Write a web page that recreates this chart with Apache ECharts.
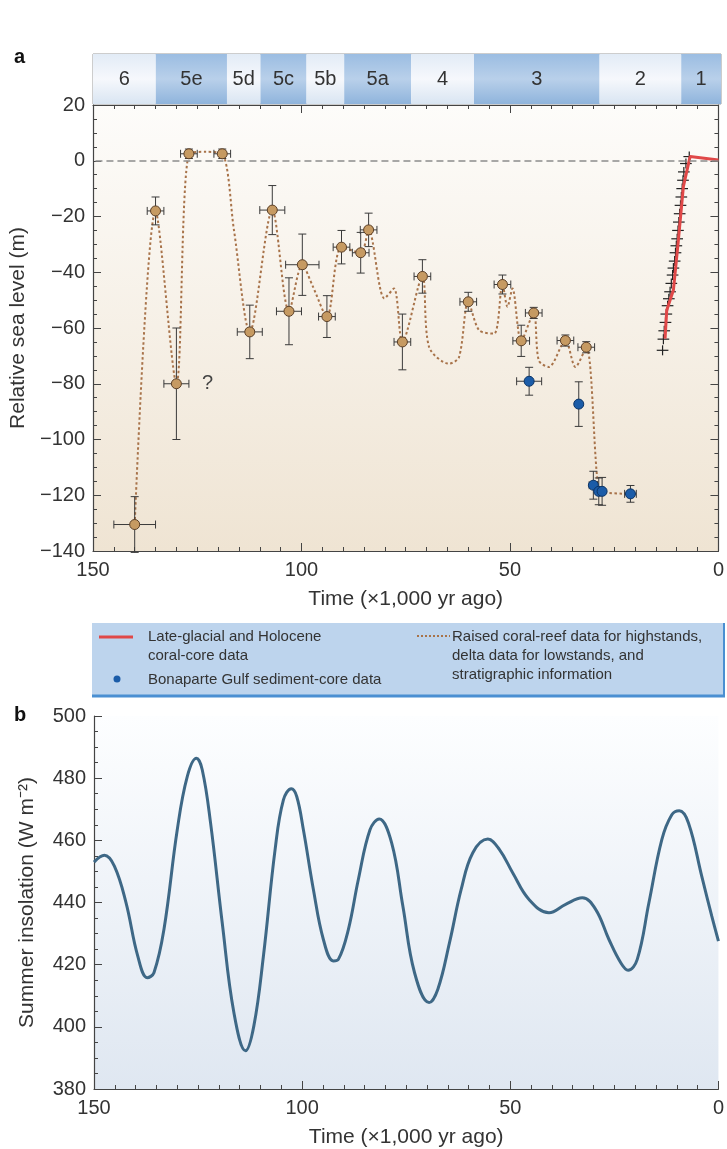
<!DOCTYPE html>
<html lang="en">
<head>
  <meta charset="UTF-8">
  <title>Sea level and insolation</title>
  <style>
    * { margin: 0; padding: 0; }
    body { background: #fff; overflow: hidden; }
    #chart { width: 727px; height: 1149px; }
  </style>
</head>
<body>
  <div id="chart"></div>
  <script src="https://cdn.jsdelivr.net/npm/echarts@6/dist/echarts.min.js"></script>
  <script>
    // marine isotope stages (ka boundaries)
    const stageNames = ['6', '5e', '5d', '5c', '5b', '5a', '4', '3', '2', '1'];
    const stageOld = [150, 135, 118, 110, 99, 90, 74, 59, 29, 9.5];
    const stageYoung = [135, 118, 110, 99, 90, 74, 59, 29, 9.5, 0];

    // raised coral reef / delta data: age, sea level, age error, level error
    const coralAge = [140, 135, 130, 127, 119, 112.4, 107, 103, 99.8, 93.9, 90.4, 85.8, 83.9, 75.8, 71, 60, 51.8, 47.3, 44.3, 36.7, 31.7];
    const coralLevel = [-130.5, -18, -80, 2.5, 2.5, -61.4, -17.7, -54, -37.3, -55.9, -31, -33, -24.8, -65, -41.5, -50.6, -44.4, -64.6, -54.6, -64.5, -66.9];
    const coralAgeErr = [5, 2, 3, 2, 2, 3, 3, 3, 4, 2, 2, 2, 2, 2, 2, 2, 2, 2, 2, 2, 2];
    const coralLevelErr = [10, 5, 20, 1.7, 1.7, 9.6, 8.8, 12, 11, 7.5, 6, 7.3, 6, 10, 6, 3.4, 3.4, 5.6, 2, 2, 2];
    const coralNote = ['', '', '?', '', '', '', '', '', '', '', '', '', '', '', '', '', '', '', '', '', ''];

    // Bonaparte Gulf sediment core
    const gulfAge = [45.4, 33.5, 30, 28.7, 27.9, 21.1];
    const gulfLevel = [-79.1, -87.3, -116.4, -118.6, -118.6, -119.5];
    const gulfAgeErr = [3, 0, 1, 0, 0, 1.4];
    const gulfLevelErr = [5, 8, 5, 4.8, 5, 3];

    // dotted sea-level reconstruction
    const curveAge = [140, 135, 130, 127, 123, 119, 116.2, 112.4, 107, 103, 99.8, 97.3, 93.9, 90.4, 85.8, 83.9, 80.1, 77.8, 75.8, 71, 69.4, 64.6, 62.2, 60, 57.4, 53.8, 51.8, 50.6, 49.4, 47.3, 44.3, 43.1, 40.7, 36.7, 34.3, 31.7, 29.1, 28.3, 21.1];
    const curveLevel = [-130.5, -18, -80, 2.5, 3.2, 2.5, -24.8, -61.4, -17.7, -54, -37.3, -45, -55.9, -31, -33, -24.8, -49.4, -45.8, -65, -41.5, -66.8, -72.8, -70.4, -50.6, -60.8, -62, -44.4, -52.4, -45.8, -64.6, -54.6, -71.6, -74, -64.5, -74, -66.9, -113.6, -118.6, -119.5];

    // late-glacial and Holocene coral cores
    const holoAge = [12.8, 12.4, 10.8, 9.6, 8.4, 6.8, 0];
    const holoLevel = [-63.8, -53.6, -46.4, -28.4, -9.2, 1.5, 0.3];
    const holoErrAge = [13.4, 13.2, 13, 12.7, 12.5, 12.2, 11.9, 11.6, 11.3, 11, 10.8, 10.5, 10.3, 10.1, 9.9, 9.7, 9.5, 9.3, 9.1, 8.9, 8.7, 8.5, 8.3, 7.8, 7];
    const holoErrLevel = [-68, -64, -61, -58, -55, -52, -49.5, -47, -44, -41, -38.5, -36, -33, -30.5, -28, -25, -22, -19, -16, -13, -10, -7, -4, -1, 1.5];

    // summer insolation
    const insolAge = [150, 147.5, 145.1, 142.3, 139.5, 137.2, 135.6, 133.2, 130, 127.6, 125.4, 124, 122, 119.2, 116.4, 113.6, 111.6, 109.3, 106.5, 104.5, 102.6, 101.3, 99.7, 97.3, 94.9, 92.5, 91.3, 88.9, 86.5, 83.7, 81.5, 78.5, 75.8, 73, 69.5, 67.4, 64.6, 61.8, 59, 55.4, 52.6, 49.4, 45.5, 40.7, 36.7, 32.7, 29.5, 26.3, 23.5, 21.7, 19.5, 16.7, 13.6, 11.2, 9.4, 7.2, 4, 1.6, 0];
    const insolValue = [453, 455.2, 451.7, 439.9, 422.8, 415.8, 417.4, 431.3, 463.4, 480.5, 486.4, 482.7, 465.6, 433.5, 404.6, 392.3, 400.3, 422.8, 457, 473, 476.6, 474.1, 463.4, 444.2, 428.1, 421.2, 421.7, 431.3, 447.4, 463.4, 466.9, 459.2, 438.8, 417.4, 407.8, 412.1, 427.1, 444.2, 456, 460.4, 457, 449.5, 441, 436.7, 439.4, 441.5, 437.8, 428.1, 420.7, 418.2, 421.7, 439.9, 460.2, 468.2, 469.5, 465.6, 448.4, 435.6, 427.6];

    const FONT = '"Liberation Sans", Arial, sans-serif';
    const TXT = '#333';
    const zip = (a, b) => a.map((v, i) => [v, b[i]]);
    const minus = v => (v < 0 ? '\u2212' + (-v) : String(v));

    // error bar cross; capX/capY are half lengths of the end caps
    const errBars = (capX, capY, color, width) => (params, api) => {
      const t = api.value(0), s = api.value(1), ex = api.value(2), ey = api.value(3);
      const st = { stroke: color, lineWidth: width };
      const kids = [];
      if (ex > 0) {
        const a = api.coord([t + ex, s]), b = api.coord([t - ex, s]);
        kids.push({ type: 'line', shape: { x1: a[0], y1: a[1], x2: b[0], y2: b[1] }, style: st });
        if (capX) {
          kids.push({ type: 'line', shape: { x1: a[0], y1: a[1] - capX, x2: a[0], y2: a[1] + capX }, style: st });
          kids.push({ type: 'line', shape: { x1: b[0], y1: b[1] - capX, x2: b[0], y2: b[1] + capX }, style: st });
        }
      }
      if (ey > 0) {
        const a = api.coord([t, s + ey]), b = api.coord([t, s - ey]);
        kids.push({ type: 'line', shape: { x1: a[0], y1: a[1], x2: b[0], y2: b[1] }, style: st });
        if (capY) {
          kids.push({ type: 'line', shape: { x1: a[0] - capY, y1: a[1], x2: a[0] + capY, y2: a[1] }, style: st });
          kids.push({ type: 'line', shape: { x1: b[0] - capY, y1: b[1], x2: b[0] + capY, y2: b[1] }, style: st });
        }
      }
      return { type: 'group', children: kids };
    };

    const bandRender = (params, api) => {
      const p1 = api.coord([api.value(0), 1]);
      const p2 = api.coord([api.value(1), 0]);
      const dark = params.dataIndex % 2 === 1;
      const stops = dark
        ? [{ offset: 0, color: '#9bbde2' }, { offset: 0.5, color: '#b9d0ea' }, { offset: 1, color: '#8fb4dc' }]
        : [{ offset: 0, color: '#e2ebf6' }, { offset: 0.5, color: '#f6f8fc' }, { offset: 1, color: '#d9e5f2' }];
      return {
        type: 'group',
        children: [
          {
            type: 'rect',
            shape: { x: p1[0], y: p1[1], width: p2[0] - p1[0], height: p2[1] - p1[1] },
            style: { fill: new echarts.graphic.LinearGradient(0, 0, 0, 1, stops) }
          },
          {
            type: 'text',
            style: {
              text: stageNames[params.dataIndex],
              x: (p1[0] + p2[0]) / 2, y: (p1[1] + p2[1]) / 2,
              align: 'center', verticalAlign: 'middle',
              font: '20px "Liberation Sans Narrow", "Liberation Sans", sans-serif', fill: TXT
            }
          }
        ]
      };
    };

    const axisCommon = {
      axisLine: { onZero: false, lineStyle: { color: '#444', width: 1.2 } },
      axisTick: { inside: true, length: 8, lineStyle: { color: '#444' } },
      minorTick: { show: true, length: 4, lineStyle: { color: '#444' } },
      splitLine: { show: false },
      axisLabel: { color: TXT, fontSize: 20, fontFamily: FONT, margin: 9 }
    };
    const nameStyle = { color: TXT, fontSize: 21, fontFamily: FONT };
    const timeAxis = (extra) => Object.assign({
      type: 'value', min: 0, max: 150, interval: 50, inverse: true
    }, axisCommon, {
      minorTick: Object.assign({}, axisCommon.minorTick, { splitNumber: 10 })
    }, extra);
    const levelAxis = (extra) => Object.assign({}, axisCommon, {
      minorTick: Object.assign({}, axisCommon.minorTick, { splitNumber: 4 })
    }, extra);

    const chart = echarts.init(document.getElementById('chart'), null, { renderer: 'canvas' });
    chart.setOption({
      animation: false,
      backgroundColor: '#fff',
      grid: [
        {
          left: 93, right: 6, top: 105, height: 446, show: true, borderWidth: 0,
          backgroundColor: new echarts.graphic.LinearGradient(0, 0, 0, 1, [
            { offset: 0, color: '#fdfcfa' }, { offset: 1, color: '#efe4d3' }
          ])
        },
        { left: 93, right: 6, top: 54, height: 50, show: true, borderColor: '#9a9a9a', borderWidth: 1, backgroundColor: 'transparent' },
        {
          left: 94, right: 6, top: 716, height: 374, show: true, borderWidth: 0,
          backgroundColor: new echarts.graphic.LinearGradient(0, 0, 0, 1, [
            { offset: 0, color: '#fdfeff' }, { offset: 1, color: '#dfe7f1' }
          ])
        }
      ],
      xAxis: [
        timeAxis({
          gridIndex: 0, position: 'bottom',
          name: 'Time (\u00d71,000 yr ago)', nameLocation: 'middle', nameGap: 38, nameTextStyle: nameStyle
        }),
        timeAxis({ gridIndex: 0, position: 'top', axisLabel: { show: false } }),
        { type: 'value', gridIndex: 1, min: 0, max: 150, inverse: true, show: false },
        timeAxis({
          gridIndex: 2, position: 'bottom',
          name: 'Time (\u00d71,000 yr ago)', nameLocation: 'middle', nameGap: 38, nameTextStyle: nameStyle
        })
      ],
      yAxis: [
        levelAxis({
          type: 'value', gridIndex: 0, min: -140, max: 20, interval: 20, position: 'left',
          axisLabel: Object.assign({}, axisCommon.axisLabel, { formatter: minus, margin: 8 }),
          name: 'Relative sea level (m)', nameLocation: 'middle', nameGap: 56, nameRotate: 90, nameTextStyle: nameStyle
        }),
        levelAxis({
          type: 'value', gridIndex: 0, min: -140, max: 20, interval: 20, position: 'right',
          axisLabel: { show: false }
        }),
        { type: 'value', gridIndex: 1, min: 0, max: 1, show: false },
        levelAxis({
          type: 'value', gridIndex: 2, min: 380, max: 500, interval: 20, position: 'left',
          axisLabel: Object.assign({}, axisCommon.axisLabel, { margin: 8 }),
          name: 'Summer insolation (W m\u207b\u00b2)', nameLocation: 'middle', nameGap: 56, nameRotate: 90, nameTextStyle: nameStyle
        })
      ],
      series: [
        {
          type: 'custom', name: 'stages', xAxisIndex: 2, yAxisIndex: 2,
          renderItem: bandRender, silent: true,
          data: stageOld.map((o, i) => [o, stageYoung[i]])
        },
        {
          type: 'line', name: 'reconstruction', xAxisIndex: 0, yAxisIndex: 0,
          data: zip(curveAge, curveLevel), smooth: 0.3, symbol: 'none', z: 2,
          lineStyle: { color: '#a8734a', width: 2, type: [2.5, 2.5] },
          markLine: {
            silent: true, symbol: 'none', label: { show: false },
            lineStyle: { color: '#8c8c8c', width: 1.5, type: [7, 4] },
            data: [{ yAxis: 0 }]
          }
        },
        {
          type: 'custom', name: 'holoErr', xAxisIndex: 0, yAxisIndex: 0, renderItem: errBars(0, 0, '#222', 1.2), z: 3,
          data: holoErrAge.map((t, i) => [t, holoErrLevel[i], 1.4, 1.8])
        },
        {
          type: 'line', name: 'holocene', xAxisIndex: 0, yAxisIndex: 0,
          data: zip(holoAge, holoLevel), symbol: 'none', z: 4,
          lineStyle: { color: '#e04848', width: 3 }
        },
        {
          type: 'custom', name: 'coralErr', xAxisIndex: 0, yAxisIndex: 0, renderItem: errBars(4, 4, '#3a3a3a', 1), z: 3,
          data: coralAge.map((t, i) => [t, coralLevel[i], coralAgeErr[i], coralLevelErr[i]])
        },
        {
          type: 'custom', name: 'gulfErr', xAxisIndex: 0, yAxisIndex: 0, renderItem: errBars(4, 4, '#3a3a3a', 1), z: 3,
          data: gulfAge.map((t, i) => [t, gulfLevel[i], gulfAgeErr[i], gulfLevelErr[i]])
        },
        {
          type: 'scatter', name: 'coral', xAxisIndex: 0, yAxisIndex: 0, z: 6,
          symbolSize: 10,
          itemStyle: { color: '#c69a62', borderColor: '#5b3f27', borderWidth: 1, opacity: 1 },
          data: coralAge.map((t, i) => ({
            value: [t, coralLevel[i]],
            label: coralNote[i] ? {
              show: true, formatter: coralNote[i], position: 'right', distance: 20,
              fontSize: 20, color: '#444', fontFamily: FONT
            } : { show: false }
          }))
        },
        {
          type: 'scatter', name: 'gulf', xAxisIndex: 0, yAxisIndex: 0, z: 6,
          symbolSize: 10,
          itemStyle: { color: '#1b5ca8', borderColor: '#0d3566', borderWidth: 1, opacity: 1 },
          data: zip(gulfAge, gulfLevel)
        },
        {
          type: 'line', name: 'insolation', xAxisIndex: 3, yAxisIndex: 3,
          data: zip(insolAge, insolValue), smooth: 0.4, symbol: 'none',
          lineStyle: { color: '#3e6886', width: 3 }
        }
      ],
      graphic: [
        { type: 'text', left: 14, top: 47, style: { text: 'a', font: 'bold 20px ' + FONT, fill: '#111' } },
        { type: 'text', left: 14, top: 705, style: { text: 'b', font: 'bold 20px ' + FONT, fill: '#111' } },
        { type: 'rect', shape: { x: 92, y: 623, width: 633, height: 73 }, style: { fill: '#bdd4ed' }, z: 0 },
        { type: 'line', shape: { x1: 92, y1: 696, x2: 725, y2: 696 }, style: { stroke: '#4a8fd2', lineWidth: 3 } },
        { type: 'line', shape: { x1: 724, y1: 623, x2: 724, y2: 697 }, style: { stroke: '#4a8fd2', lineWidth: 2 } },
        { type: 'line', shape: { x1: 99, y1: 637, x2: 133, y2: 637 }, style: { stroke: '#e04848', lineWidth: 3 } },
        { type: 'text', x: 148, y: 637, style: { text: 'Late-glacial and Holocene', font: '15px ' + FONT, fill: TXT, verticalAlign: 'middle' } },
        { type: 'text', x: 148, y: 656, style: { text: 'coral-core data', font: '15px ' + FONT, fill: TXT, verticalAlign: 'middle' } },
        { type: 'circle', shape: { cx: 117, cy: 679, r: 3.5 }, style: { fill: '#1b5ca8' } },
        { type: 'text', x: 148, y: 680, style: { text: 'Bonaparte Gulf sediment-core data', font: '15px ' + FONT, fill: TXT, verticalAlign: 'middle' } },
        { type: 'line', shape: { x1: 417, y1: 636, x2: 450, y2: 636 }, style: { stroke: '#a8734a', lineWidth: 2, lineDash: [2, 2] } },
        { type: 'text', x: 452, y: 637, style: { text: 'Raised coral-reef data for highstands,', font: '15px ' + FONT, fill: TXT, verticalAlign: 'middle' } },
        { type: 'text', x: 452, y: 656, style: { text: 'delta data for lowstands, and', font: '15px ' + FONT, fill: TXT, verticalAlign: 'middle' } },
        { type: 'text', x: 452, y: 675, style: { text: 'stratigraphic information', font: '15px ' + FONT, fill: TXT, verticalAlign: 'middle' } }
      ]
    });
  </script>
</body>
</html>
